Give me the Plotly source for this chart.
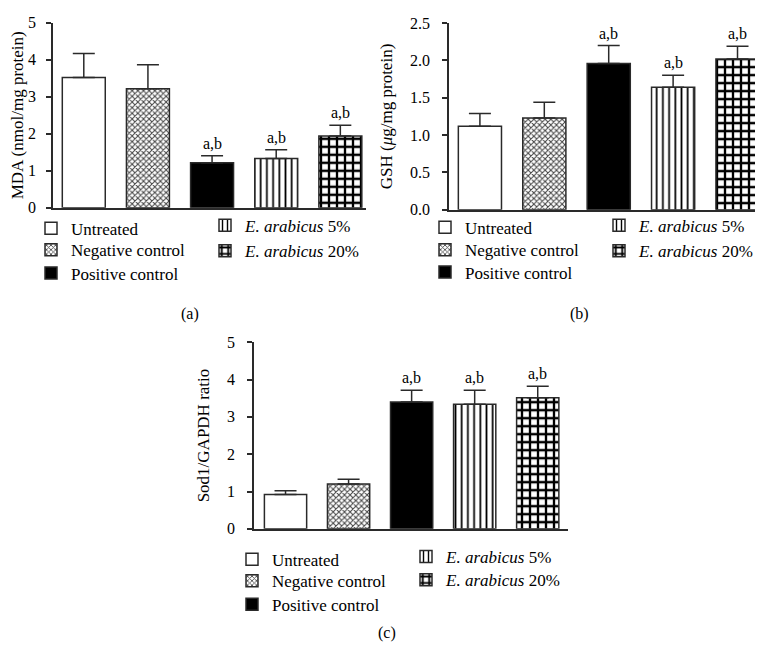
import plotly.graph_objects as go

groups = ["Untreated", "Negative control", "Positive control",
          "<i>E. arabicus</i> 5%", "<i>E. arabicus</i> 20%"]

mda_mean = [3.52, 3.22, 1.22, 1.33, 1.94]
mda_upper = [4.17, 3.87, 1.41, 1.57, 2.23]
mda_sig = ["", "", "a,b", "a,b", "a,b"]

gsh_mean = [1.12, 1.23, 1.96, 1.64, 2.02]
gsh_upper = [1.29, 1.44, 2.20, 1.80, 2.19]
gsh_sig = ["", "", "a,b", "a,b", "a,b"]

sod_mean = [0.92, 1.20, 3.40, 3.34, 3.51]
sod_upper = [1.02, 1.33, 3.71, 3.71, 3.82]
sod_sig = ["", "", "a,b", "a,b", "a,b"]

mda_ticks = ["0", "1", "2", "3", "4", "5"]
gsh_ticks = ["0.0", "0.5", "1.0", "1.5", "2.0", "2.5"]
sod_ticks = ["0", "1", "2", "3", "4", "5"]

FONT = "Liberation Serif"
INK = "#2a2a2a"
W, H = 763, 646
def px(v): return v / W
def py(v): return 1 - v / H

styles = [
    dict(color="white", pattern=dict(shape="")),
    dict(color="white", pattern=dict(shape="x", fgcolor="#444444", bgcolor="white",
                                     size=4, solidity=0.45, fillmode="replace")),
    dict(color="black", pattern=dict(shape="")),
    dict(color="white", pattern=dict(shape="|", fgcolor="black", bgcolor="white",
                                     size=6.2, solidity=0.28, fillmode="replace")),
    dict(color="white", pattern=dict(shape="+", fgcolor="black", bgcolor="white",
                                     size=8, solidity=0.5, fillmode="replace")),
]

# legend entry placement (pixel: symbol-left x, legend-top y) per panel
legend_pos = [
    [(45, 200), (45, 222), (45, 246), (219, 197), (219, 223)],
    [(439, 199), (439, 222), (439, 245), (613, 197), (613, 223)],
    [(246, 540), (246, 562), (246, 586), (420, 537), (420, 561)],
]

fig = go.Figure()

panels = [
    ("x", "y", mda_mean, mda_upper, mda_sig),
    ("x2", "y2", gsh_mean, gsh_upper, gsh_sig),
    ("x3", "y3", sod_mean, sod_upper, sod_sig),
]

annotations = []
legends = {}
for p, (xa, ya, means, uppers, sigs) in enumerate(panels):
    for i, g in enumerate(groups):
        st = styles[i]
        k = p * 5 + i + 1
        lname = "legend" if k == 1 else f"legend{k}"
        lx, ly = legend_pos[p][i]
        legends[lname] = dict(x=px(lx - 22), y=py(ly), xanchor="left", yanchor="top",
                              bgcolor="rgba(0,0,0,0)", borderwidth=0,
                              font=dict(family=FONT, size=17, color="black"))
        fig.add_trace(go.Bar(
            x=[i], y=[means[i]], xaxis=xa, yaxis=ya, width=0.67,
            name=g, legend=lname,
            marker=dict(color=st["color"], pattern=st["pattern"],
                        line=dict(color=INK, width=1.5)),
            error_y=dict(type="data", symmetric=False,
                         array=[uppers[i] - means[i]], arrayminus=[0],
                         color=INK, thickness=1.5, width=11),
        ))
        if sigs[i]:
            annotations.append(dict(
                x=i, y=uppers[i], xref=xa, yref=ya, text=sigs[i],
                showarrow=False, yanchor="bottom", yshift=2,
                font=dict(family=FONT, size=16, color="black")))

axis_common = dict(showline=True, linecolor=INK, linewidth=1.5, showgrid=False,
                   zeroline=False)
yaxis_common = dict(axis_common, ticks="outside", ticklen=5, tickwidth=1.5,
                    tickcolor=INK, tickfont=dict(family=FONT, size=16, color="black"))
title_font = dict(family=FONT, size=17, color="black")

fig.update_layout(
    width=W, height=H, margin=dict(l=0, r=0, t=0, b=0),
    paper_bgcolor="white", plot_bgcolor="white",
    barmode="overlay", font=dict(family=FONT, color="black"),
    xaxis=dict(axis_common, domain=[px(45), px(358)], range=[-0.48, 4.4],
               showticklabels=False, anchor="y"),
    yaxis=dict(yaxis_common, domain=[py(197), py(7)], range=[0, 5],
               tickvals=[0, 1, 2, 3, 4, 5], ticktext=mda_ticks, anchor="x",
               ticklabelstandoff=7,
               title=dict(text="MDA (nmol/mg protein)", font=title_font, standoff=8)),
    xaxis2=dict(axis_common, domain=[px(441), 1.0], range=[-0.48, 4.52],
                showticklabels=False, anchor="y2"),
    yaxis2=dict(yaxis_common, domain=[py(199), py(7.3)], range=[0, 2.5],
                tickvals=[0, 0.5, 1, 1.5, 2, 2.5], ticktext=gsh_ticks, anchor="x2",
                ticklabelstandoff=9,
                title=dict(text="GSH (<i>μ</i>g/mg protein)", font=title_font, standoff=13)),
    xaxis3=dict(axis_common, domain=[px(246), px(560)], range=[-0.5, 4.48],
                showticklabels=False, anchor="y3"),
    yaxis3=dict(yaxis_common, domain=[py(526.7), py(335)], range=[0, 5],
                tickvals=[0, 1, 2, 3, 4, 5], ticktext=sod_ticks, anchor="x3",
                ticklabelstandoff=9,
                title=dict(text="Sod1/GAPDH ratio", font=title_font, standoff=13)),
    showlegend=True,
    annotations=annotations + [
        dict(x=px(182), y=py(306), xref="paper", yref="paper", text="(a)",
             xanchor="center", yanchor="middle",
             showarrow=False, font=dict(family=FONT, size=16, color="black")),
        dict(x=px(571), y=py(306), xref="paper", yref="paper", text="(b)",
             xanchor="center", yanchor="middle",
             showarrow=False, font=dict(family=FONT, size=16, color="black")),
        dict(x=px(379), y=py(634), xref="paper", yref="paper", text="(c)",
             xanchor="center", yanchor="middle",
             showarrow=False, font=dict(family=FONT, size=16, color="black")),
    ],
    **legends,
)

fig.write_html("out.html")
